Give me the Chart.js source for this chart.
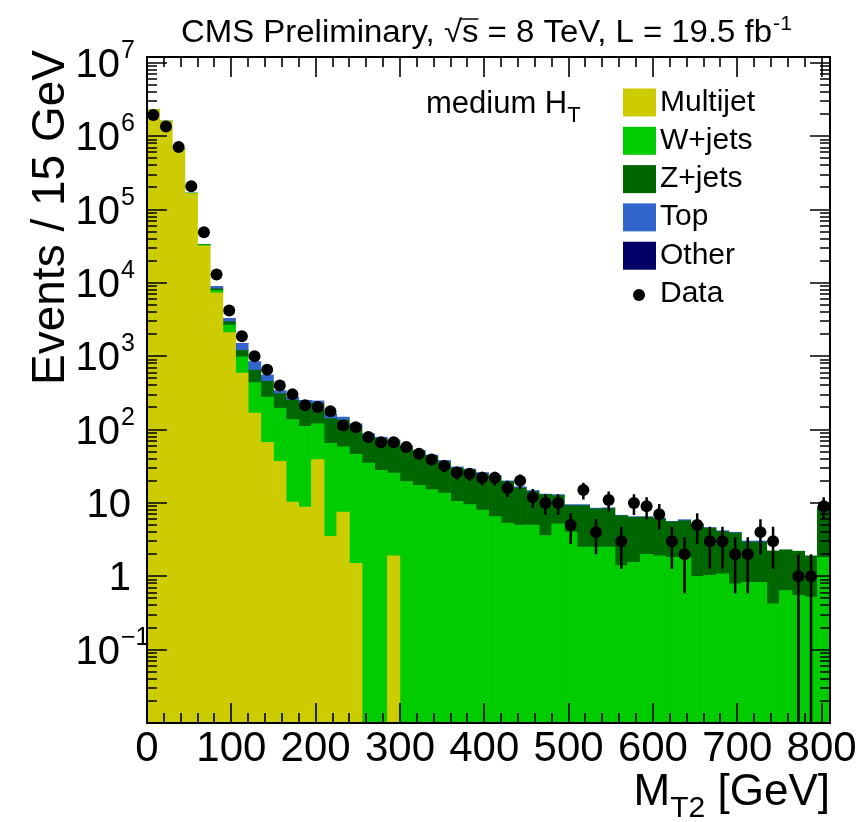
<!DOCTYPE html>
<html>
<head>
<meta charset="utf-8">
<script src="https://cdn.jsdelivr.net/npm/chart.js@4.4.1/dist/chart.umd.min.js"></script>
<style>
  html, body { margin: 0; padding: 0; background: #fff; }
  #wrap { width: 860px; height: 822px; }
</style>
</head>
<body>
<div id="wrap"><canvas id="mt2Chart" width="860" height="822"></canvas></div>
<script>
// MT2 bin centres (15 GeV bins, last one is the overflow bin)
const mt2Centers = [7.5, 22.5, 37.5, 52.5, 67.5, 82.5, 97.5, 112.5, 127.5, 142.5,
  157.5, 172.5, 187.5, 202.5, 217.5, 232.5, 247.5, 262.5, 277.5, 292.5,
  307.5, 322.5, 337.5, 352.5, 367.5, 382.5, 397.5, 412.5, 427.5, 442.5,
  457.5, 472.5, 487.5, 502.5, 517.5, 532.5, 547.5, 562.5, 577.5, 592.5,
  607.5, 622.5, 637.5, 652.5, 667.5, 682.5, 697.5, 712.5, 727.5, 742.5,
  757.5, 772.5, 787.5, 802.5];

// simulation, events per bin
const multijet = [2.3e6, 1.6e6, 6.7e5, 1.65e5, 3.2e4, 7300, 2100, 590, 168, 67,
  37, 10.3, 8.8, 39, 3.5, 7.5, 1.5, 0, 0, 1.9,
  0, 0, 0, 0, 0, 0, 0, 0, 0, 0,
  0, 0, 0, 0, 0, 0, 0, 0, 0, 0,
  0, 0, 0, 0, 0, 0, 0, 0, 0, 0,
  0, 0, 0, 0];
const wJets = [2000, 2500, 2500, 1800, 1000, 600, 560, 390, 269, 211,
  159, 127, 102, 81, 61.5, 50.5, 44.5, 35, 27.8, 23.7,
  19.6, 17.4, 15.2, 13.6, 10.5, 9.5, 8.0, 6.5, 5.3, 5.0,
  5.0, 3.6, 5.2, 4.0, 2.5, 2.5, 2.5, 1.4, 1.55, 2.0,
  1.9, 1.82, 1.82, 1.0, 1.03, 1.08, 0.79, 0.83, 0.83, 0.42,
  0.64, 0.55, 0.52, 1.82];
const zJets = [800, 900, 900, 600, 300, 400, 300, 220, 208, 178,
  113, 113, 114, 105, 76, 77, 64, 44, 47, 44,
  38.4, 32.6, 27.8, 22.4, 19.5, 18.5, 17, 16.5, 14.2, 11,
  9.3, 9.4, 7.4, 5.2, 6.7, 5.8, 5.9, 5.3, 4.85, 4.4,
  4.2, 3.7, 3.9, 4.1, 3.5, 3.0, 3.1, 2.1, 2.1, 1.8,
  1.66, 1.65, 1.38, 7.0];
const topQuark = [300, 400, 500, 400, 300, 600, 300, 290, 189, 94,
  27, 22, 25, 21, 24, 13, 10, 9, 4, 3,
  2, 2, 2, 2, 1, 1, 1, 0.7, 0.5, 0.6,
  0.5, 0.2, 0.4, 0.3, 0.3, 0.2, 0.2, 0.1, 0.1, 0.1,
  0.1, 0.1, 0.2, 0.1, 0.1, 0.1, 0.1, 0.1, 0.1, 0,
  0, 0, 0, 0];
const other = [0, 0, 0, 0, 0, 10, 8, 5, 3, 2,
  1, 1, 1, 0, 0, 0, 0, 0, 0, 0,
  0, 0, 0, 0, 0, 0, 0, 0, 0, 0,
  0, 0, 0, 0, 0, 0, 0, 0, 0, 0,
  0, 0, 0, 0, 0, 0, 0, 0, 0, 0,
  0, 0, 0, 0];

// observed events (null = empty bin)
const dataCounts = [1.95e6, 1.35e6, 7.1e5, 2.08e5, 4.9e4, 1.3e4, 4200, 1870, 1000, 656,
  398, 302, 214, 203, 178, 114, 108, 79, 67, 67,
  58, 47, 39, 32, 26, 25, 22, 22, 16, 20,
  12, 10, 10, 5, 15, 4, 11, 3, 10, 9,
  7, 3, 2, 5, 3, 3, 2, 2, 4, 3,
  null, 1, 1, 9];

const sampleNames = ['Multijet', 'W+jets', 'Z+jets', 'Top', 'Other'];
const sampleColors = ['#cccc00', '#00cc00', '#006600', '#3366cc', '#000066'];
const xTickValues = [0, 100, 200, 300, 400, 500, 600, 700, 800];
const yDecades = [-1, 0, 1, 2, 3, 4, 5, 6, 7];

const NARROW = '"Liberation Sans Narrow", "Liberation Sans", Arial, sans-serif';
const SANS = '"Liberation Sans", Arial, sans-serif';

function toXY(values) {
  return mt2Centers.map((x, i) => ({ x: x, y: values[i] }));
}

const samples = [multijet, wJets, zJets, topQuark, other];
const dataPoints = mt2Centers
  .map((x, i) => ({ x: x, y: dataCounts[i] }))
  .filter(p => p.y !== null);

// inner ticks, frame and poisson error bars
const frameAndTicks = {
  id: 'frameAndTicks',
  afterDatasetsDraw(chart) {
    const { ctx, chartArea: a, scales: { x, y } } = chart;
    ctx.save();
    ctx.strokeStyle = '#000';

    // error bars
    ctx.lineWidth = 2.5;
    ctx.beginPath();
    dataPoints.forEach(p => {
      const err = Math.sqrt(p.y);
      const px = x.getPixelForValue(p.x);
      const lo = p.y - err > y.min ? y.getPixelForValue(p.y - err) : a.bottom;
      const hi = y.getPixelForValue(p.y + err);
      ctx.moveTo(px, lo);
      ctx.lineTo(px, hi);
    });
    ctx.stroke();

    ctx.lineWidth = 1.6;
    ctx.beginPath();
    for (let v = 0; v <= 800; v += 20) {
      const px = Math.round(x.getPixelForValue(v));
      const len = v % 100 === 0 ? 20 : 10;
      ctx.moveTo(px, a.bottom); ctx.lineTo(px, a.bottom - len);
      ctx.moveTo(px, a.top); ctx.lineTo(px, a.top + len);
    }
    for (let e = -2; e <= 7; e++) {
      for (let k = 1; k <= 9; k++) {
        const v = k * Math.pow(10, e);
        if (v < y.min || v > y.max) continue;
        const py = Math.round(y.getPixelForValue(v));
        const len = k === 1 ? 20 : 10;
        ctx.moveTo(a.left, py); ctx.lineTo(a.left + len, py);
        ctx.moveTo(a.right, py); ctx.lineTo(a.right - len, py);
      }
    }
    ctx.stroke();

    ctx.lineWidth = 2;
    ctx.strokeRect(a.left, a.top, a.right - a.left, a.bottom - a.top);
    ctx.restore();
  }
};

// all the text that chart.js can't typeset (superscripts, subscripts, legend)
const annotations = {
  id: 'annotations',
  afterDraw(chart) {
    const { ctx, scales: { y } } = chart;
    ctx.save();
    ctx.fillStyle = '#000';
    ctx.textBaseline = 'alphabetic';

    // y tick labels
    yDecades.forEach(n => {
      const py = y.getPixelForValue(Math.pow(10, n));
      ctx.font = '40px ' + NARROW;
      if (n === 0 || n === 1) {
        ctx.textAlign = 'right';
        ctx.fillText(n === 0 ? '1' : '10', 131, py + 14);
      } else {
        const exp = String(n).replace('-', '\u2212');
        ctx.textAlign = 'right';
        ctx.fillText('10', 120, py + 14);
        ctx.font = '25px ' + NARROW;
        ctx.textAlign = 'left';
        ctx.fillText(exp, 121, py - 5);
      }
    });

    // top caption
    const capParts = ['CMS Preliminary, ', '\u221a', 's', ' = 8 TeV, L = 19.5 fb'];
    ctx.font = '31px ' + SANS;
    const widths = capParts.map(t => ctx.measureText(t).width);
    const total = widths.reduce((s, w) => s + w, 0);
    const sx = 591 / total;
    ctx.save();
    ctx.translate(181, 42);
    ctx.scale(sx, 1);
    ctx.textAlign = 'left';
    let cx = 0;
    capParts.forEach((t, i) => { ctx.fillText(t, cx, 0); cx += widths[i]; });
    // bar over the s
    ctx.lineWidth = 1.5;
    ctx.beginPath();
    const sStart = widths[0] + widths[1] - 2;
    ctx.moveTo(sStart, -23);
    ctx.lineTo(sStart + widths[2] + 2, -23);
    ctx.stroke();
    ctx.font = '20px ' + SANS;
    ctx.fillText('-1', cx + 1, -12);
    ctx.restore();

    // y axis title
    ctx.save();
    ctx.font = '46px ' + SANS;
    const yt = 'Events / 15 GeV';
    const ytw = ctx.measureText(yt).width;
    ctx.translate(64, 385);
    ctx.rotate(-Math.PI / 2);
    ctx.scale(335 / ytw, 1);
    ctx.textAlign = 'left';
    ctx.fillText(yt, 0, 0);
    ctx.restore();

    // x axis title, right aligned
    ctx.font = '44px ' + SANS;
    ctx.textAlign = 'right';
    ctx.fillText(' [GeV]', 830, 805);
    let xr = 830 - ctx.measureText(' [GeV]').width;
    ctx.font = '30px ' + SANS;
    ctx.fillText('T2', xr, 817);
    xr -= ctx.measureText('T2').width;
    ctx.font = '44px ' + SANS;
    ctx.fillText('M', xr, 805);

    // region label
    ctx.textAlign = 'left';
    ctx.font = '31px ' + SANS;
    ctx.fillText('medium H', 426, 113);
    const hw = ctx.measureText('medium H').width;
    ctx.font = '22px ' + SANS;
    ctx.fillText('T', 426 + hw, 122);

    // legend
    ctx.font = '30px ' + SANS;
    sampleNames.forEach((name, i) => {
      const cy = 102.5 + i * 38.3;
      ctx.fillStyle = sampleColors[i];
      ctx.fillRect(623, cy - 14, 33, 28);
      ctx.fillStyle = '#000';
      ctx.fillText(name, 660, cy + 8);
    });
    const dy = 102.5 + 5 * 38.3;
    ctx.beginPath();
    ctx.arc(639, dy + 1, 6, 0, Math.PI * 2);
    ctx.fill();
    ctx.fillText('Data', 660, dy + 8);

    ctx.restore();
  }
};

const datasets = samples.map((vals, i) => ({
  label: sampleNames[i],
  data: toXY(vals),
  backgroundColor: sampleColors[i],
  borderWidth: 0,
  barPercentage: 1,
  categoryPercentage: 1,
  stack: 'mc'
}));
datasets.push({
  type: 'scatter',
  label: 'Data',
  data: dataPoints,
  pointRadius: 6,
  pointBackgroundColor: '#000',
  pointBorderWidth: 0,
  stack: 'data',
  order: -1
});

new Chart(document.getElementById('mt2Chart'), {
  type: 'bar',
  data: { datasets: datasets },
  plugins: [frameAndTicks, annotations],
  options: {
    responsive: false,
    animation: false,
    layout: { padding: { top: 57, right: 30, left: 0, bottom: 0 } },
    plugins: { legend: { display: false }, tooltip: { enabled: false } },
    scales: {
      x: {
        type: 'linear',
        stacked: true,
        min: 0,
        max: 810,
        offset: false,
        grid: { display: false, drawTicks: false, offset: false },
        border: { display: false },
        afterBuildTicks: s => { s.ticks = xTickValues.map(v => ({ value: v })); },
        ticks: {
          autoSkip: false,
          maxRotation: 0,
          padding: 1,
          color: '#000',
          font: { family: NARROW, size: 42 }
        },
        afterFit: s => { s.height = 99; }
      },
      y: {
        type: 'logarithmic',
        stacked: true,
        min: 0.01,
        max: 1.2e7,
        grid: { display: false, drawTicks: false },
        border: { display: false },
        ticks: { display: false },
        afterFit: s => { s.width = 147; }
      }
    }
  }
});
</script>
</body>
</html>
